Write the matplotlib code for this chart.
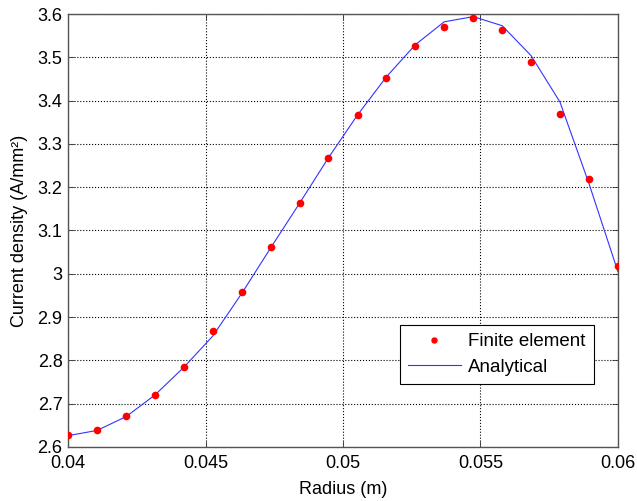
import matplotlib
matplotlib.use("Agg")
import matplotlib.pyplot as plt
from matplotlib.ticker import FuncFormatter

# radius samples (m), same grid for both series
radius = [0.04, 0.04105, 0.04211, 0.04316, 0.04421, 0.04526, 0.04632,
          0.04737, 0.04842, 0.04947, 0.05053, 0.05158, 0.05263, 0.05368,
          0.05474, 0.05579, 0.05684, 0.05789, 0.05895, 0.06]

# current density (A/mm^2)
fem = [2.627, 2.639, 2.671, 2.721, 2.785, 2.867, 2.958, 3.061, 3.163, 3.268,
       3.367, 3.453, 3.527, 3.570, 3.591, 3.564, 3.490, 3.370, 3.219, 3.017]
analytical = [2.626, 2.638, 2.670, 2.720, 2.784, 2.856, 2.955, 3.060, 3.163,
              3.268, 3.367, 3.455, 3.529, 3.582, 3.594, 3.573, 3.504, 3.397,
              3.208, 3.005]

xticks = [0.04, 0.045, 0.05, 0.055, 0.06]
yticks = [2.6, 2.7, 2.8, 2.9, 3.0, 3.1, 3.2, 3.3, 3.4, 3.5, 3.6]

plt.rcParams['font.family'] = ['Liberation Sans', 'DejaVu Sans']
fs = 13

fig = plt.figure(figsize=(6.37, 5.01), dpi=100)
ax = fig.add_axes([0.107, 0.108, 0.863, 0.864])

ax.plot(radius, fem, 'o', color='red', markersize=4.5, label='Finite element', zorder=3)
ax.plot(radius, analytical, '-', color='#3333ff', linewidth=0.8, label='Analytical', zorder=2)

ax.set_xlim(0.04, 0.06)
ax.set_ylim(2.6, 3.6)
ax.set_xticks(xticks)
ax.set_yticks(yticks)
ax.xaxis.set_major_formatter(FuncFormatter(lambda v, p: '%g' % v))
ax.yaxis.set_major_formatter(FuncFormatter(lambda v, p: '%g' % v))
ax.tick_params(direction='in', labelsize=fs, length=4, width=0.6, colors='#333333',
               labelcolor='black', top=True, right=True)
ax.tick_params(axis='x', pad=6)
ax.tick_params(axis='y', pad=4)
ax.grid(True, linestyle=':', color='black', linewidth=0.8)
for s in ax.spines.values():
    s.set_color('#555555')
    s.set_linewidth(1.0)

ax.set_xlabel('Radius (m)', fontsize=fs, labelpad=6)
ax.set_ylabel('Current density (A/mm²)', fontsize=fs, labelpad=7)

leg = ax.legend(loc='lower left', bbox_to_anchor=(0.603, 0.145), fontsize=fs + 0.5,
                fancybox=False, framealpha=1, edgecolor='black', borderpad=0.45,
                handlelength=2.8, labelspacing=0.45, handletextpad=0.4,
                markerscale=0.8, borderaxespad=0)
leg.get_frame().set_linewidth(0.8)

fig.savefig('out.png', dpi=100)
